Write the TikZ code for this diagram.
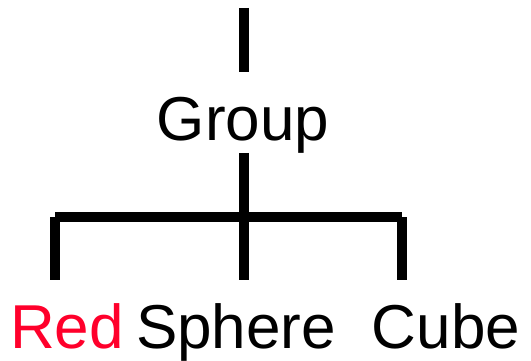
\documentclass[tikz,border=0pt]{standalone}
\usepackage{fontspec}
\setmainfont{Liberation Sans}
\definecolor{labelred}{RGB}{255,0,43}
\begin{document}
\begin{tikzpicture}[x=1pt,y=-1pt,
  bar/.style={line width=10pt,line cap=butt},
  label/.style={anchor=base,inner sep=0pt,font=\fontsize{62}{68}\selectfont}]
  \useasboundingbox (0,0) rectangle (531,361);
  % labels
  \node[label] (grp) at (243,141) {Group};
  \node[label,text=labelred] (red) at (67,348) {Red};
  \node[label] (sph) at (236,348) {Sphere};
  \node[label] (cube) at (446,348) {Cube};
  % connector ends and junctions
  \coordinate (top) at (243.5,8);
  \coordinate (topend) at (243.5,72);
  \coordinate (grpbot) at (244,153);
  \coordinate (jm) at (244,217);
  \coordinate (jl) at (55,217);
  \coordinate (jr) at (402,217);
  \coordinate (el) at (55,280);
  \coordinate (em) at (244,280);
  \coordinate (er) at (402,280);
  % tree lines
  \draw[bar] (top) -- (topend);
  \draw[bar] (grpbot) -- (jm) -- (em);
  \draw[bar] (jl) -- (jr);
  \draw[bar] (jl) -- (el);
  \draw[bar] (jr) -- (er);
\end{tikzpicture}
\end{document}
